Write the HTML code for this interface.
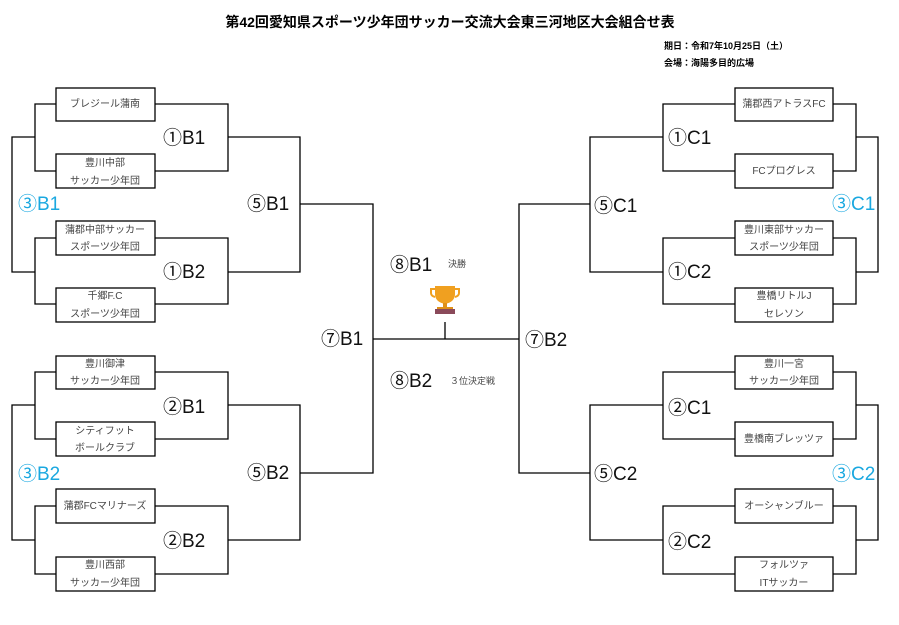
<!DOCTYPE html>
<html><head><meta charset="utf-8"><style>
html,body{margin:0;padding:0;background:#fff;}
svg{display:block;font-family:"Liberation Sans","Noto Sans CJK JP",sans-serif;}
.b{fill:#fff;stroke:#000;stroke-width:1.3}
.t{font-size:10px;fill:#444;text-anchor:middle}
.l{font-size:19px;fill:#111}
.c{font-size:19px;fill:#1aa8e0}
</style></head><body>
<svg width="899" height="625" viewBox="0 0 899 625">
<text x="450" y="27" text-anchor="middle" font-size="14" font-weight="bold">第42回愛知県スポーツ少年団サッカー交流大会東三河地区大会組合せ表</text>
<text x="664" y="49" font-size="9" font-weight="bold">期日：令和7年10月25日（土）</text>
<text x="664" y="66" font-size="9" font-weight="bold">会場：海陽多目的広場</text>
<g fill="none" stroke="#000" stroke-width="1.3">
<path d="M56 104H35V171H56M35 137H12V272H35M56 238H35V304H56"/>
<path d="M155 104H228V171H155M228 137H300V272H228M155 238H228V304H155"/>
<path d="M300 204H373V473H300M373 339H519M445 322V339"/>
<path d="M56 372H35V439H56M35 405H12V540H35M56 506H35V574H56"/>
<path d="M155 372H228V439H155M228 405H300V540H228M155 506H228V574H155"/>
<path d="M590 204H519V473H590"/>
<path d="M833 104H856V171H833M856 137H878V272H856M833 238H856V304H833"/>
<path d="M735 104H663V171H735M663 137H590V272H663M735 238H663V304H735"/>
<path d="M833 372H856V439H833M856 405H878V540H856M833 506H856V574H833"/>
<path d="M735 372H663V439H735M663 405H590V540H663M735 506H663V574H735"/>
</g>
<rect class="b" x="56" y="88" width="99" height="33"/>
<rect class="b" x="56" y="154" width="99" height="34"/>
<rect class="b" x="56" y="221" width="99" height="34"/>
<rect class="b" x="56" y="288" width="99" height="34"/>
<rect class="b" x="56" y="356" width="99" height="33"/>
<rect class="b" x="56" y="422" width="99" height="34"/>
<rect class="b" x="56" y="489" width="99" height="34"/>
<rect class="b" x="56" y="557" width="99" height="34"/>
<rect class="b" x="735" y="88" width="98" height="33"/>
<rect class="b" x="735" y="154" width="98" height="34"/>
<rect class="b" x="735" y="221" width="98" height="34"/>
<rect class="b" x="735" y="288" width="98" height="34"/>
<rect class="b" x="735" y="356" width="98" height="33"/>
<rect class="b" x="735" y="422" width="98" height="34"/>
<rect class="b" x="735" y="489" width="98" height="34"/>
<rect class="b" x="735" y="557" width="98" height="34"/>
<g class="t">
<text x="105" y="107">ブレジール蒲南</text>
<text x="105" y="166">豊川中部</text><text x="105" y="184">サッカー少年団</text>
<text x="105" y="233">蒲郡中部サッカー</text><text x="105" y="250">スポーツ少年団</text>
<text x="105" y="299">千郷F.C</text><text x="105" y="317">スポーツ少年団</text>
<text x="105" y="367">豊川御津</text><text x="105" y="384">サッカー少年団</text>
<text x="105" y="434">シティフット</text><text x="105" y="451">ボールクラブ</text>
<text x="105" y="509">蒲郡FCマリナーズ</text>
<text x="105" y="568">豊川西部</text><text x="105" y="586">サッカー少年団</text>
<text x="784" y="107">蒲郡西アトラスFC</text>
<text x="784" y="174">FCプログレス</text>
<text x="784" y="233">豊川東部サッカー</text><text x="784" y="250">スポーツ少年団</text>
<text x="784" y="299">豊橋リトルJ</text><text x="784" y="317">セレソン</text>
<text x="784" y="367">豊川一宮</text><text x="784" y="384">サッカー少年団</text>
<text x="784" y="442">豊橋南ブレッツァ</text>
<text x="784" y="509">オーシャンブルー</text>
<text x="784" y="568">フォルツァ</text><text x="784" y="586">ITサッカー</text>
</g>
<g class="l">
<text x="163" y="144">①B1</text><text x="163" y="278">①B2</text>
<text x="247" y="210">⑤B1</text><text x="247" y="479">⑤B2</text>
<text x="163" y="413">②B1</text><text x="163" y="547">②B2</text>
<text x="321" y="345">⑦B1</text><text x="525" y="346">⑦B2</text>
<text x="390" y="271">⑧B1</text><text x="390" y="387">⑧B2</text>
<text x="668" y="144">①C1</text><text x="668" y="278">①C2</text>
<text x="594" y="212">⑤C1</text><text x="594" y="480">⑤C2</text>
<text x="668" y="414">②C1</text><text x="668" y="548">②C2</text>
</g>
<g class="c">
<text x="18" y="210">③B1</text><text x="18" y="480">③B2</text>
<text x="832" y="210">③C1</text><text x="832" y="480">③C2</text>
</g>
<text x="448" y="267" font-size="9" fill="#444">決勝</text>
<text x="450" y="384" font-size="9" fill="#444">３位決定戦</text>
<g>
<path d="M435 286h20v8q0 8-10 10q-10-2-10-10z" fill="#f0a020"/>
<path d="M435 289h-4v4q0 3 4 4M455 289h4v4q0 3-4 4" fill="none" stroke="#f0a020" stroke-width="2"/>
<rect x="443" y="303" width="4" height="5" fill="#e09018"/>
<rect x="437" y="307" width="16" height="3" fill="#e09018"/>
<rect x="435" y="309" width="20" height="5" fill="#8a4a5a"/>
</g>
</svg>
</body></html>
